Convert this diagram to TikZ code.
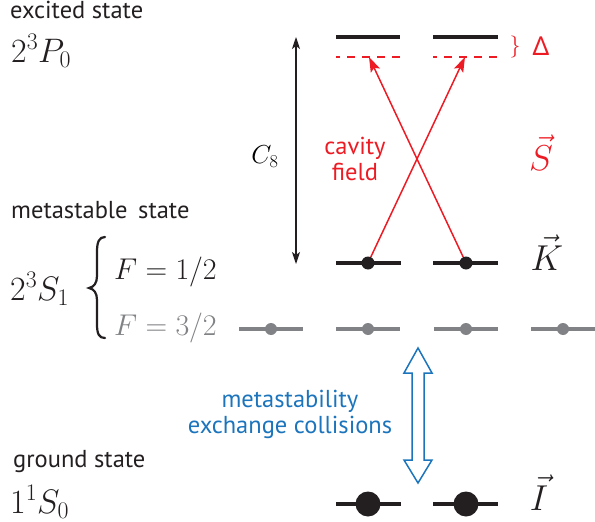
\RequirePackage{fix-cm}
\documentclass[tikz,border=0pt]{standalone}
\usepackage{fontspec}
\setsansfont{PT Sans}
\newfontfamily\grkfont{Noto Sans}
\usetikzlibrary{arrows.meta}
\definecolor{myred}{HTML}{ED1C24}
\definecolor{myblue}{HTML}{1C75BC}
\definecolor{mygray}{HTML}{808285}
\definecolor{myblack}{HTML}{231F20}
\begin{document}
\begin{tikzpicture}[x=1pt,y=-1pt,
  lvl/.style={line width=3.5pt, draw=myblack},
  glvl/.style={line width=3.5pt, draw=mygray},
  dlvl/.style={line width=2.6pt, draw=myred, dash pattern=on 8pt off 7pt, dash phase=4pt},
  sdot/.style={circle, fill=myblack, inner sep=0, minimum size=13pt},
  gdot/.style={circle, fill=mygray, inner sep=0, minimum size=12pt},
  bdot/.style={circle, fill=myblack, inner sep=0, minimum size=25pt},
  lbl/.style={font=\sffamily\fontsize{24.5}{28}\selectfont, anchor=base west, inner sep=0, text=myblack},
  mth/.style={font=\fontsize{30}{36}\selectfont, inner sep=0, text=myblack},
  bigmth/.style={font=\fontsize{34}{40}\selectfont, inner sep=0, text=myblack, anchor=base west},
  vecl/.style={font=\fontsize{36}{40}\selectfont, inner sep=0, anchor=base},
  redarr/.style={draw=myred, line width=1.5pt, -{Stealth[length=15pt,width=10pt,inset=3pt]}},
  blktxt/.style={font=\sffamily\fontsize{24.5}{28}\selectfont, inner sep=0, anchor=base, align=center}
]
\useasboundingbox (0,0) rectangle (595,522);

% left labels
\node[lbl] (exc) at (10,18) {excited state};
\node[bigmth] (p0) at (11,62) {$2^3P_0$};
\node[lbl] (meta) at (11,218) {metastable\, state};
\node[bigmth] (s1) at (10,300) {$2^3S_1$};
\coordinate (bt) at (105,237); \coordinate (bm) at (89,288); \coordinate (bb) at (105,338);
\draw[line width=2.2pt, draw=myblack, line cap=round]
  (bt) .. controls (99,237) and (97,242) .. (97,252) -- (97,276)
  .. controls (97,283) and (94,287) .. (bm)
  .. controls (94,289) and (97,293) .. (97,300) -- (97,324)
  .. controls (97,334) and (99,338) .. (bb);
\node[mth, anchor=base west] (f12) at (114,279) {$F=1/2$};
\node[mth, anchor=base west, text=mygray] (f32) at (114,335) {$F=3/2$};
\node[lbl] (gnd) at (13,467) {ground state};
\node[bigmth] (s0) at (10,513) {$1^1S_0$};

% excited levels
\coordinate (e1l) at (336,37); \coordinate (e1r) at (400,37);
\coordinate (e2l) at (433,37); \coordinate (e2r) at (498,37);
\draw[lvl] (e1l) -- (e1r);
\draw[lvl] (e2l) -- (e2r);
\coordinate (d1l) at (336,57); \coordinate (d1r) at (400,57);
\coordinate (d2l) at (433,57); \coordinate (d2r) at (498,57);
\draw[dlvl] (d1l) -- (d1r);
\draw[dlvl] (d2l) -- (d2r);
\coordinate (d1) at (369,57); \coordinate (d2) at (465,57);
\node[font=\fontsize{22}{26}\selectfont, text=myred, inner sep=0] (br) at (515,47) {$\}$};
\node[font=\grkfont\fontsize{26}{30}\selectfont, text=myred, inner sep=0] (delta) at (541,46) {Δ};

% metastable F=1/2
\coordinate (m1l) at (336,263); \coordinate (m1r) at (401,263);
\coordinate (m2l) at (433,263); \coordinate (m2r) at (498,263);
\draw[lvl] (m1l) -- (m1r);
\draw[lvl] (m2l) -- (m2r);
\node[sdot] (m1) at (368,263) {};
\node[sdot] (m2) at (466,263) {};

% F=3/2 gray
\foreach \x/\n in {271/g1,368/g2,466/g3,563/g4}{
  \draw[glvl] (\x-32,329) -- (\x+32,329);
  \node[gdot] (\n) at (\x,329) {};
}

% ground
\coordinate (gl1) at (336,504); \coordinate (gr1) at (401,504);
\coordinate (gl2) at (433,504); \coordinate (gr2) at (498,504);
\draw[lvl] (gl1) -- (gr1);
\draw[lvl] (gl2) -- (gr2);
\node[bdot] (b1) at (368,504) {};
\node[bdot] (b2) at (466,504) {};

% cavity arrows
\draw[redarr] (m1) -- (d2);
\draw[redarr] (m2) -- (d1);
\node[blktxt, text=myred] (cav) at (355,154) {cavity};
\node[blktxt, text=myred] (fld) at (355,180) {field};

% C8 arrow
\coordinate (ct) at (296,37); \coordinate (cb) at (296,264);
\draw[line width=1.1pt, draw=myblack, {Stealth[length=12pt,width=8pt,inset=3pt]}-{Stealth[length=12pt,width=8pt,inset=3pt]}] (ct) -- (cb);
\node[font=\fontsize{26}{30}\selectfont, inner sep=0] (c8) at (265,157) {$C_8$};

% vectors
\node[vecl, text=myred] (S) at (541,170) {$\vec{S}$};
\node[vecl, text=myblack] (K) at (547,270) {$\vec{K}$};
\node[vecl, text=myblack] (I) at (539,510) {$\vec{I}$};

% MEC arrow
\draw[draw=myblue, line width=1.5pt, line join=miter]
  (418,348) -- (432,373) -- (424,373) -- (424,460) -- (432,460) -- (418,483)
  -- (404,460) -- (412,460) -- (412,373) -- (404,373) -- cycle;
\node[blktxt, text=myblue] (mt1) at (290,407) {metastability};
\node[blktxt, text=myblue] (mt2) at (290,433) {exchange collisions};
\end{tikzpicture}
\end{document}
